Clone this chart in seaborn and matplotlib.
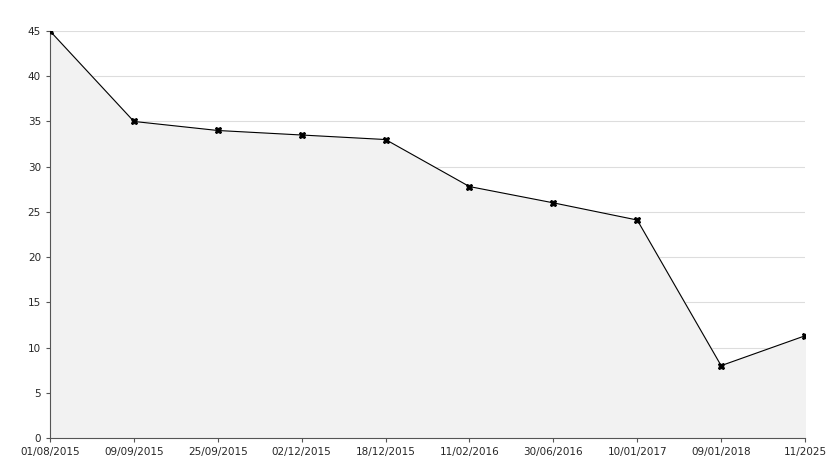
import matplotlib
matplotlib.use("Agg")
import matplotlib.pyplot as plt
import seaborn as sns
import pandas as pd

dates = ["01/08/2015", "09/09/2015", "25/09/2015", "02/12/2015", "18/12/2015",
         "11/02/2016", "30/06/2016", "10/01/2017", "09/01/2018", "11/2025"]
values = [45, 35, 34, 33.5, 33, 27.8, 26, 24.1, 8, 11.3]

df = pd.DataFrame({"pos": range(len(dates)), "value": values})

sns.set_style("white")
plt.rcParams["font.family"] = ["DejaVu Sans"]
fig = plt.figure(figsize=(8.34, 4.68), dpi=100)
ax = fig.add_axes([50 / 834, 30 / 468, 755 / 834, 407 / 468])

ax.fill_between(df["pos"], df["value"], color="#f2f2f2", zorder=1)
sns.lineplot(data=df, x="pos", y="value", ax=ax, color="black", linewidth=0.8,
             marker="X", markersize=5, markeredgecolor="black", zorder=3)

ax.set_xlim(0, len(dates) - 1)
ax.set_ylim(0, 45)
ax.set_yticks(range(0, 46, 5))
ax.set_xticks(range(len(dates)))
ax.set_xticklabels(dates)
ax.tick_params(labelsize=7.5, length=3, color="#555555", direction="out",
               left=True, bottom=True)
ax.yaxis.grid(True, color="#dddddd", linewidth=0.8, zorder=0)
ax.set_axisbelow(True)
for s in ["top", "right"]:
    ax.spines[s].set_visible(False)
for s in ["left", "bottom"]:
    ax.spines[s].set_color("#555555")
    ax.spines[s].set_linewidth(0.8)
ax.set_xlabel("")
ax.set_ylabel("")

fig.savefig("out.png", dpi=100)
